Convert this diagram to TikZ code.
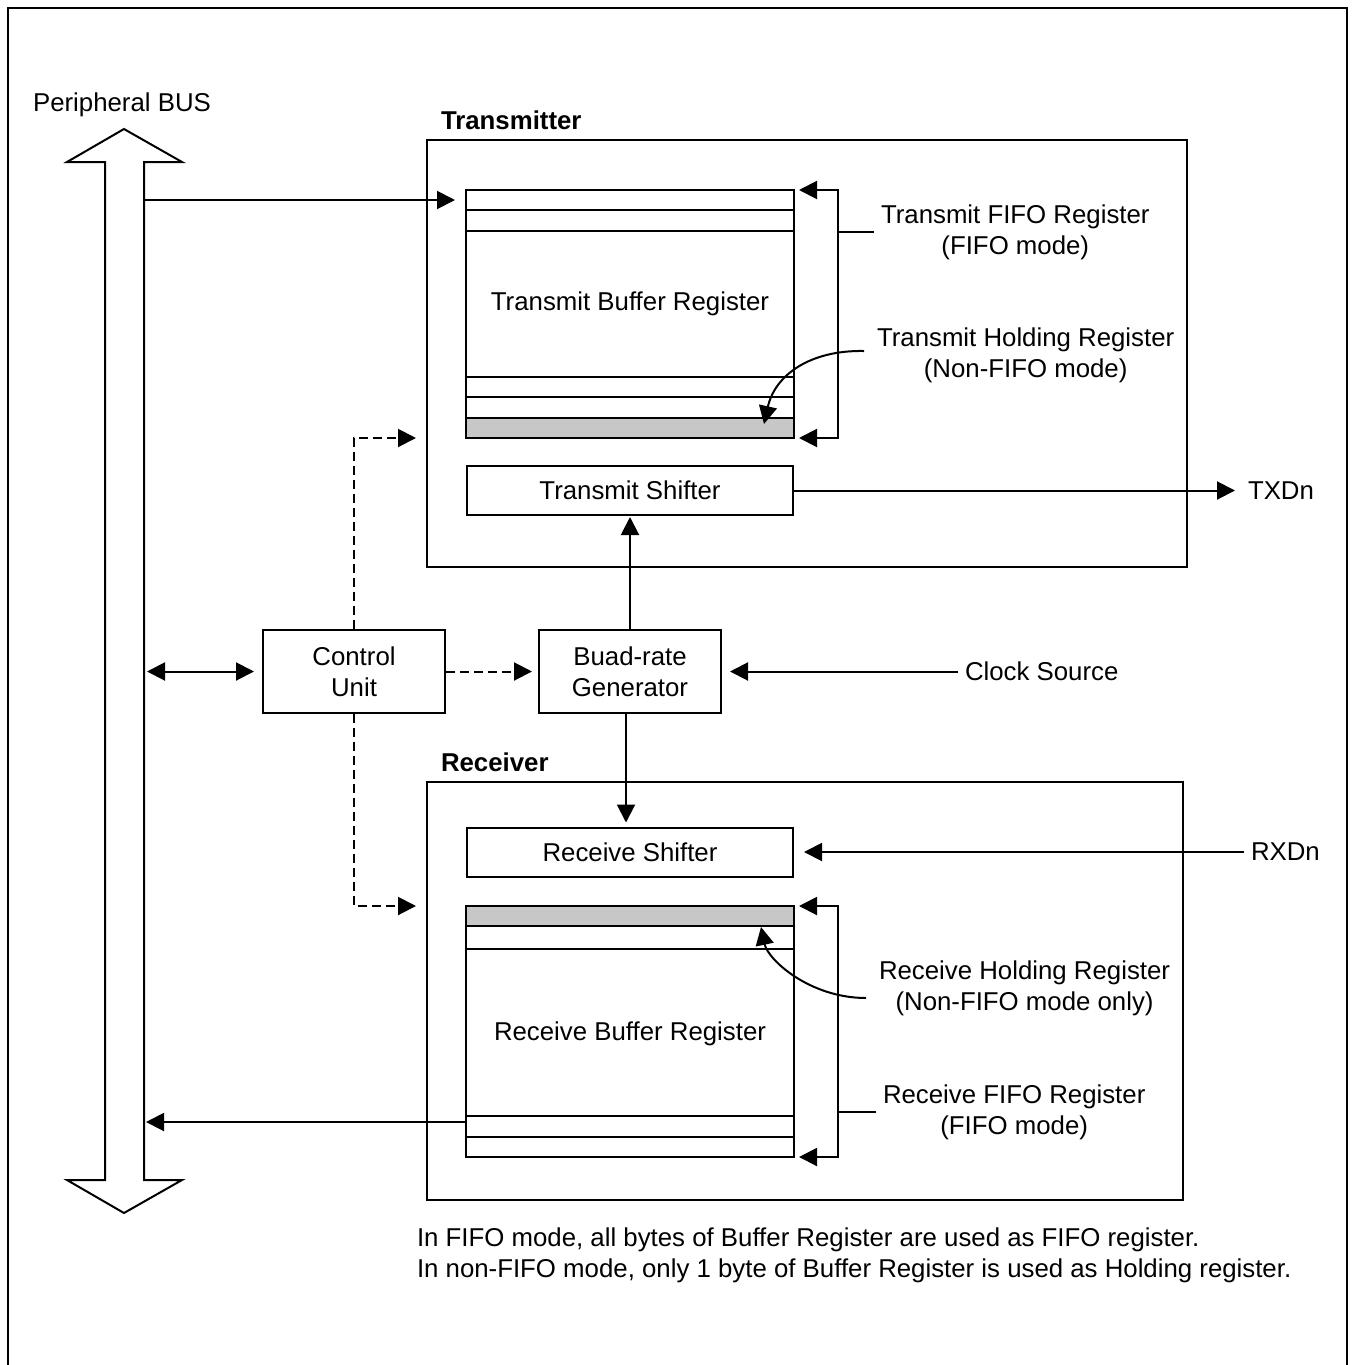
\documentclass[tikz,border=0pt]{standalone}
\usepackage{fontspec}
\setmainfont{Liberation Sans}
\usetikzlibrary{arrows.meta,positioning,calc}

\begin{document}
\begin{tikzpicture}[x=0.5pt,y=-0.5pt,line width=1pt,
	>={Triangle[length=9pt,width=9pt]},
	font=\fontsize{12.9}{15.5}\selectfont]
	\tikzstyle{block}=[draw,rectangle,inner sep=0pt,align=center,minimum width=163pt]
	\tikzstyle{shifter}=[block,minimum height=24.5pt]
	\tikzstyle{buffer}=[rectangle,inner sep=0pt,minimum width=163pt,minimum height=123pt]
	\tikzstyle{unit}=[block,minimum width=91pt,minimum height=41.5pt]
	\tikzstyle{group}=[draw,rectangle,inner sep=0pt]
	\tikzstyle{tag}=[inner sep=0pt,anchor=base west,font=\fontsize{12.9}{15.5}\selectfont\bfseries]
	\tikzstyle{note}=[align=center,inner sep=3pt]
	\tikzstyle{ctl}=[dash pattern=on 4.5pt off 2.5pt]
	\tikzstyle{held}=[fill=black!22]

	\useasboundingbox (0,0) rectangle (1355,1365);
	\draw (8,8) rectangle (1347,1372);

	% peripheral bus (double block arrow)
	\draw (105,1180) -- (105,162) -- (67,162) -- (124,129) -- (182,162) -- (144,162)
		-- (144,1180) -- (182,1180) -- (124,1213) -- (67,1180) -- cycle;
	\coordinate (busR) at (144,0);
	\node (bus) at (122,105) {Peripheral BUS};

	% transmitter
	\node[group,minimum width=380pt,minimum height=213.5pt] (tx) at (807,353.5) {};
	\node[tag] (txlbl) at (440,129) {Transmitter};
	\node[buffer] (tbuf) at (630,314) {};
	\fill[held] ($(tbuf.south west)+(0,-20)$) rectangle (tbuf.south east);
	\foreach \d in {20,41}
		\draw ($(tbuf.north west)+(0,\d)$) -- ($(tbuf.north east)+(0,\d)$);
	\foreach \d in {20,41,61}
		\draw ($(tbuf.south west)+(0,-\d)$) -- ($(tbuf.south east)+(0,-\d)$);
	\draw (tbuf.north west) rectangle (tbuf.south east);
	\node (tbuftxt) at (630,304) {Transmit Buffer Register};
	\node[shifter] (tshift) at (630,490.5) {Transmit Shifter};

	\coordinate (tbrk) at ($(tbuf.east)+(44,0)$);
	\draw[<->,shorten <=2.5pt,shorten >=2.5pt] (tbuf.north east) -- (tbuf.north east -| tbrk)
		-- (tbuf.south east -| tbrk) -- (tbuf.south east);
	\node[note,anchor=west] (tfifo) at (874,232) {Transmit FIFO Register\\(FIFO mode)};
	\draw (tfifo.west) -- (tfifo.west -| tbrk);
	\node[note,anchor=west] (thold) at (870,355) {Transmit Holding Register\\(Non-FIFO mode)};
	\draw[->] ($(thold.west)+(-6,-4)$) .. controls (810,350) and (775,375)
		.. ($(tbuf.south east)+(-30,-14)$);

	% receiver
	\node[group,minimum width=378pt,minimum height=209pt] (rx) at (805,991) {};
	\node[tag] (rxlbl) at (440,771) {Receiver};
	\node[shifter] (rshift) at (630,852) {Receive Shifter};
	\node[buffer,minimum height=124.5pt] (rbuf) at (630,1031.5) {};
	\fill[held] (rbuf.north west) rectangle ($(rbuf.north east)+(0,20)$);
	\foreach \d in {20,43}
		\draw ($(rbuf.north west)+(0,\d)$) -- ($(rbuf.north east)+(0,\d)$);
	\foreach \d in {20,41}
		\draw ($(rbuf.south west)+(0,-\d)$) -- ($(rbuf.south east)+(0,-\d)$);
	\draw (rbuf.north west) rectangle (rbuf.south east);
	\node (rbuftxt) at (630,1034) {Receive Buffer Register};

	\coordinate (rbrk) at ($(rbuf.east)+(44,0)$);
	\draw[<->,shorten <=2.5pt,shorten >=2.5pt] (rbuf.north east) -- (rbuf.north east -| rbrk)
		-- (rbuf.south east -| rbrk) -- (rbuf.south east);
	\node[note,anchor=west] (rfifo) at (876,1112) {Receive FIFO Register\\(FIFO mode)};
	\draw (rfifo.west) -- (rfifo.west -| rbrk);
	\node[note,anchor=west] (rhold) at (872,988) {Receive Holding Register\\(Non-FIFO mode only)};
	\draw[->] ($(rhold.west)+(-6,10)$) .. controls (810,998) and (768,960)
		.. ($(rbuf.north east)+(-33,21)$);

	% control and clocking
	\node[unit] (ctrl) at (354,671.5) {Control\\Unit};
	\node[unit] (baud) at (630,671.5) {Buad-rate\\Generator};
	\node[note,anchor=west] (clk) at (958,671.5) {Clock Source};
	\node[note,anchor=west] (txd) at (1241,490.5) {TXDn};
	\node[note,anchor=west] (rxd) at (1244,852) {RXDn};

	\coordinate (tin) at ($(tbuf.north west)+(0,10)$);
	\coordinate (rout) at ($(rbuf.south west)+(0,-35)$);
	\draw[->,shorten >=5.5pt] (busR |- tin) -- (tin);
	\draw[->,shorten >=1pt] (rout) -- (busR |- rout);
	\draw[<->,shorten <=1.5pt,shorten >=4pt] (busR |- ctrl.west) -- (ctrl.west);
	\draw[->,ctl,shorten >=3pt] (ctrl) -- (baud);
	\draw[->,ctl,shorten >=5pt] (ctrl.north) |- (tx.west |- tbuf.south);
	\draw[->,ctl,shorten >=5pt] (ctrl.south) |- (rx.west |- rbuf.north);
	\draw[->,shorten >=0.5pt] (baud) -- (tshift);
	\draw[->,shorten >=2pt] ($(baud.south)+(-4,0)$) -- ($(rshift.north)+(-4,0)$);
	\draw[->,shorten >=4pt] (clk) -- (baud);
	\draw[->,shorten >=3pt] (tshift) -- (txd);
	\draw[->,shorten >=5pt] (rxd) -- (rshift);

	% notes
	\node[align=left,inner sep=0pt,anchor=west] (modes) at (416,1255.5)
		{In FIFO mode, all bytes of Buffer Register are used as FIFO register.\\
		In non-FIFO mode, only 1 byte of Buffer Register is used as Holding register.};
\end{tikzpicture}
\end{document}
